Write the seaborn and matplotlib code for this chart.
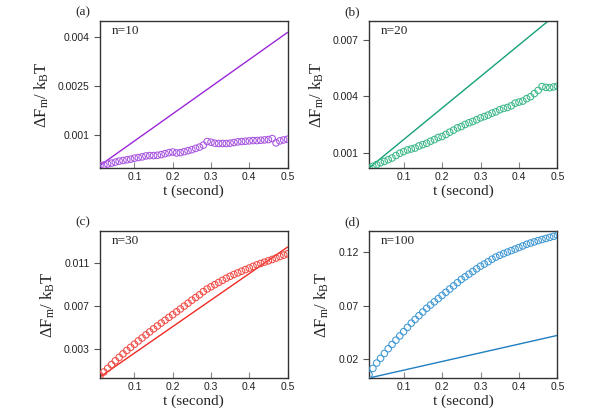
import matplotlib
matplotlib.use("Agg")
import matplotlib.pyplot as plt
import seaborn as sns

# time axis (seconds)
t = [round(0.01 * i, 2) for i in range(1, 51)]
t_line = [0.01, 0.5]

# measured dF_m / k_B T (open circles)
pts_a = [0.00007, 0.00009, 0.00012, 0.00015, 0.00018, 0.00021, 0.00023, 0.00025, 0.00027, 0.00030,
         0.00032, 0.00034, 0.00037, 0.00038, 0.00038, 0.00039, 0.00041, 0.00044, 0.00047, 0.00049,
         0.00046, 0.00047, 0.00050, 0.00053, 0.00056, 0.00060, 0.00064, 0.00070, 0.00081, 0.00079,
         0.00076, 0.00075, 0.00075, 0.00075, 0.00076, 0.00078, 0.00080, 0.00081, 0.00082, 0.00083,
         0.00084, 0.00084, 0.00085, 0.00086, 0.00087, 0.00090, 0.00077, 0.00083, 0.00086, 0.00088]
pts_b = [0.00020, 0.00029, 0.00038, 0.00048, 0.00055, 0.00064, 0.00073, 0.00086, 0.00098, 0.00107,
         0.00116, 0.00121, 0.00126, 0.00137, 0.00144, 0.00151, 0.00162, 0.00171, 0.00182, 0.00187,
         0.00198, 0.00210, 0.00221, 0.00233, 0.00240, 0.00251, 0.00260, 0.00267, 0.00276, 0.00286,
         0.00293, 0.00301, 0.00311, 0.00318, 0.00329, 0.00336, 0.00341, 0.00350, 0.00364, 0.00370,
         0.00375, 0.00388, 0.00398, 0.00415, 0.00432, 0.00452, 0.00448, 0.00446, 0.00450, 0.00454]
pts_c = [0.00052, 0.00086, 0.00120, 0.00155, 0.00190, 0.00222, 0.00255, 0.00287, 0.00316, 0.00345,
         0.00375, 0.00403, 0.00432, 0.00460, 0.00488, 0.00515, 0.00542, 0.00568, 0.00595, 0.00620,
         0.00647, 0.00673, 0.00700, 0.00727, 0.00755, 0.00780, 0.00805, 0.00835, 0.00860, 0.00880,
         0.00900, 0.00920, 0.00940, 0.00960, 0.00978, 0.00995, 0.01010, 0.01025, 0.01040, 0.01055,
         0.01070, 0.01085, 0.01098, 0.01110, 0.01122, 0.01135, 0.01148, 0.01162, 0.01175, 0.01187]
pts_d = [0.0053, 0.0110, 0.0160, 0.0205, 0.0250, 0.0295, 0.0335, 0.0375, 0.0415, 0.0455,
         0.0495, 0.0535, 0.0570, 0.0605, 0.0640, 0.0675, 0.0705, 0.0735, 0.0765, 0.0795,
         0.0825, 0.0855, 0.0885, 0.0915, 0.0945, 0.0970, 0.0995, 0.1020, 0.1045, 0.1070,
         0.1090, 0.1112, 0.1135, 0.1155, 0.1172, 0.1188, 0.1202, 0.1216, 0.1230, 0.1245,
         0.1260, 0.1275, 0.1287, 0.1298, 0.1310, 0.1320, 0.1330, 0.1340, 0.1350, 0.1360]

# theory lines (values at t_line)
line_a = [0.00008, 0.00415]
line_b = [0.00020, 0.00840]
line_c = [0.00040, 0.01250]
line_d = [0.00200, 0.04200]

panel_labels = ["(a)", "(b)", "(c)", "(d)"]
n_labels = ["n=10", "n=20", "n=30", "n=100"]
ylims = [(0, 0.0045), (0.0002, 0.008), (0.0003, 0.014), (0.002, 0.14)]
yticks = [[0.001, 0.0025, 0.004], [0.001, 0.004, 0.007], [0.003, 0.007, 0.011], [0.02, 0.07, 0.12]]
ytick_labels = [["0.001", "0.0025", "0.004"], ["0.001", "0.004", "0.007"],
                ["0.003", "0.007", "0.011"], ["0.02", "0.07", "0.12"]]
xticks = [0.1, 0.2, 0.3, 0.4, 0.5]
xtick_labels = ["0.1", "0.2", "0.3", "0.4", "0.5"]

line_colors = ["#9b27d9", "#14a07a", "#ee2a22", "#1f7fc0"]
pt_colors = ["#a855e0", "#3cb889", "#f04a44", "#3d97d3"]

sns.set_style("ticks")
plt.rcParams["mathtext.fontset"] = "custom"
plt.rcParams["mathtext.rm"] = "Liberation Serif"
plt.rcParams["mathtext.it"] = "Liberation Serif:italic"
plt.rcParams["font.family"] = ["Liberation Sans", "DejaVu Sans"]

fig = plt.figure(figsize=(6, 4.2), dpi=100)
positions = [[0.1667, 0.60, 0.3125, 0.35], [0.615, 0.60, 0.314, 0.35],
             [0.1667, 0.10, 0.3125, 0.35], [0.615, 0.10, 0.314, 0.35]]

all_pts = [pts_a, pts_b, pts_c, pts_d]
all_lines = [line_a, line_b, line_c, line_d]

for i in range(4):
    ax = fig.add_axes(positions[i])
    sns.lineplot(x=t_line, y=all_lines[i], color=line_colors[i], linewidth=1.0, ax=ax)
    sns.scatterplot(x=t, y=all_pts[i], marker="o", s=22, facecolor="none",
                    edgecolor=pt_colors[i], linewidth=0.75, ax=ax, zorder=3)
    ax.set_xlim(0.01, 0.5)
    ax.set_ylim(*ylims[i])
    ax.set_xticks(xticks)
    ax.set_xticklabels(xtick_labels)
    ax.set_yticks(yticks[i])
    ax.set_yticklabels(ytick_labels[i])
    ax.tick_params(axis="x", direction="in", length=4, width=0.8, labelsize=7.5,
                   color="#888888", labelcolor="#222222", pad=3)
    ax.tick_params(axis="y", direction="out", length=4, width=0.8, labelsize=7.5,
                   color="#555555", labelcolor="#222222")
    for s in ax.spines.values():
        s.set_color("#333333")
        s.set_linewidth(1.0)
    ax.set_xlabel("t (second)", fontfamily="Liberation Serif", fontsize=11, labelpad=1.5)
    ax.set_ylabel(r"$\mathrm{\Delta F_m/\ k_B T}$", fontsize=12, labelpad=5)
    ax.text(0.06, 0.975, n_labels[i], transform=ax.transAxes, ha="left", va="top",
            fontfamily="Liberation Serif", fontsize=9.5)
    ax.text(-0.09, 1.02, panel_labels[i], transform=ax.transAxes, ha="center", va="bottom",
            fontfamily="Liberation Serif", fontsize=9.5)

plt.savefig("out.png", dpi=100)
